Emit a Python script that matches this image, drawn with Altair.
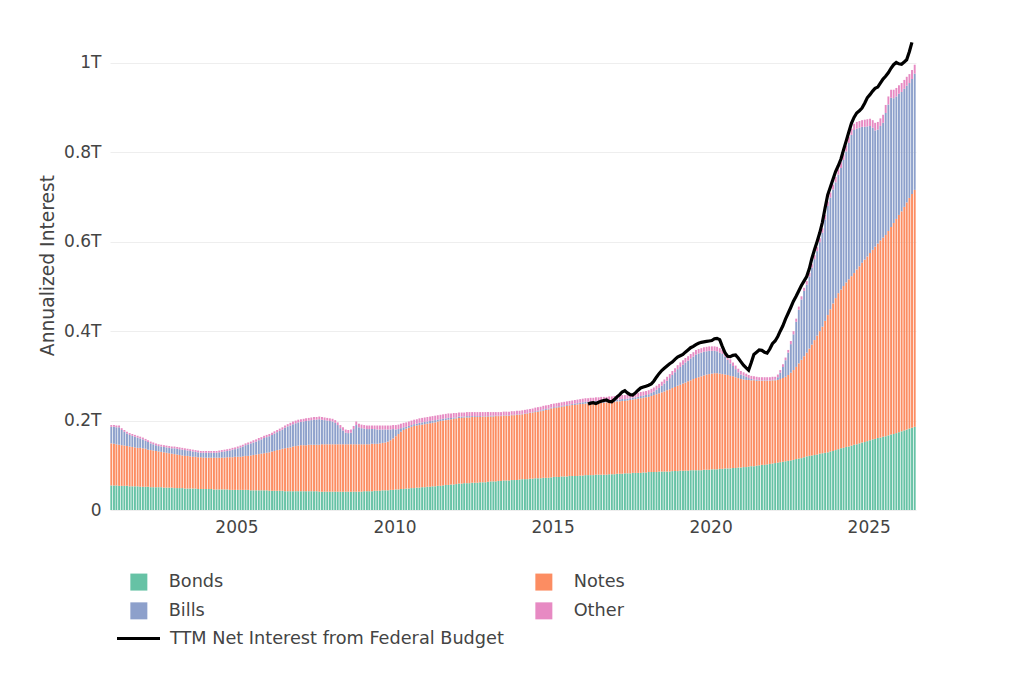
import altair as alt
import pandas as pd

SERIES = ["Bonds", "Notes", "Bills", "Other"]
COLORS = ["#66c2a5", "#fc8d62", "#8da0cb", "#e78ac3"]
LEGEND_ORDER = ["Bonds", "Bills", "Notes", "Other"]   # column-major fill -> rows Bonds/Notes, Bills/Other
LINE_NAME = "TTM Net Interest from Federal Budget"
Y_TICKS = [0, 200, 400, 600, 800, 1000]          # billions of dollars
X_TICK_YEARS = [2005, 2010, 2015, 2020, 2025]

# Annualized interest, billions of USD, monthly Jan 2001 .. Jun 2026 (12 per row = one year)
bonds = [
    55, 55, 55, 54, 54, 54, 54, 53, 53, 53, 53, 52,
    52, 52, 52, 51, 51, 51, 51, 51, 50, 50, 50, 50,
    49, 49, 49, 49, 48, 48, 48, 48, 48, 47, 47, 47,
    47, 47, 47, 46, 46, 46, 46, 46, 46, 45, 45, 45,
    45, 45, 45, 45, 45, 44, 44, 44, 44, 44, 44, 44,
    43, 43, 43, 43, 43, 43, 42, 42, 42, 42, 42, 42,
    42, 42, 42, 42, 42, 42, 42, 41, 41, 41, 41, 41,
    41, 41, 41, 41, 41, 41, 41, 41, 41, 41, 41, 41,
    42, 42, 42, 42, 43, 43, 43, 44, 44, 44, 45, 45,
    46, 46, 47, 47, 48, 48, 49, 49, 50, 50, 51, 51,
    52, 52, 53, 53, 54, 54, 55, 56, 56, 57, 57, 58,
    59, 59, 60, 60, 60, 61, 61, 61, 62, 62, 62, 63,
    64, 64, 64, 65, 65, 66, 66, 66, 67, 67, 67, 68,
    69, 69, 69, 70, 70, 71, 71, 71, 72, 72, 72, 73,
    74, 74, 74, 75, 75, 75, 76, 76, 76, 76, 77, 77,
    78, 78, 78, 78, 79, 79, 79, 79, 79, 80, 80, 80,
    81, 81, 81, 82, 82, 82, 83, 83, 83, 83, 84, 84,
    85, 85, 85, 85, 86, 86, 86, 86, 86, 87, 87, 87,
    88, 88, 88, 88, 89, 89, 89, 89, 89, 90, 90, 90,
    91, 91, 91, 92, 92, 93, 93, 93, 94, 94, 95, 95,
    96, 96, 97, 98, 98, 99, 100, 101, 101, 102, 103, 104,
    105, 106, 107, 108, 109, 110, 111, 112, 114, 115, 116, 118,
    120, 121, 122, 123, 124, 126, 127, 128, 129, 131, 132, 134,
    136, 138, 139, 141, 142, 144, 146, 147, 149, 151, 152, 154,
    156, 158, 159, 161, 162, 164, 165, 167, 169, 170, 172, 174,
    176, 178, 180, 182, 184, 186,
]

notes = [
    94, 93, 92, 92, 91, 90, 89, 89, 88, 87, 86, 87,
    86, 85, 83, 83, 82, 81, 80, 79, 79, 78, 77, 76,
    76, 75, 74, 73, 73, 73, 72, 71, 71, 71, 71, 70,
    70, 70, 70, 71, 71, 71, 71, 71, 72, 73, 73, 74,
    74, 74, 75, 76, 76, 78, 79, 80, 81, 82, 83, 84,
    86, 88, 89, 91, 92, 94, 96, 97, 98, 100, 101, 102,
    103, 103, 103, 104, 104, 104, 104, 105, 106, 106, 106, 106,
    106, 106, 106, 106, 106, 106, 106, 106, 106, 106, 106, 106,
    105, 105, 105, 106, 105, 105, 106, 106, 107, 109, 111, 115,
    119, 124, 128, 132, 134, 136, 137, 139, 139, 140, 140, 141,
    141, 142, 142, 143, 144, 145, 145, 145, 146, 146, 147, 147,
    147, 147, 147, 147, 147, 147, 147, 147, 146, 147, 147, 146,
    145, 145, 146, 145, 145, 145, 145, 145, 145, 145, 146, 145,
    145, 146, 147, 147, 148, 148, 149, 150, 150, 152, 153, 154,
    154, 155, 156, 156, 157, 158, 158, 159, 159, 160, 160, 160,
    160, 160, 161, 161, 160, 161, 161, 161, 162, 161, 162, 162,
    162, 162, 163, 162, 163, 164, 164, 165, 166, 167, 167, 168,
    168, 170, 172, 174, 175, 177, 179, 182, 184, 186, 188, 191,
    192, 195, 197, 200, 201, 204, 206, 208, 210, 211, 213, 214,
    214, 215, 215, 213, 212, 210, 209, 207, 205, 203, 200, 198,
    196, 195, 194, 192, 192, 190, 189, 188, 188, 187, 186, 186,
    185, 185, 186, 187, 189, 192, 196, 201, 206, 213, 220, 226,
    232, 240, 248, 257, 266, 274, 283, 295, 307, 318, 330, 340,
    349, 355, 362, 368, 374, 379, 384, 391, 396, 402, 408, 413,
    419, 424, 430, 435, 441, 445, 450, 457, 464, 472, 479, 486,
    492, 500, 508, 516, 523, 530,
]

bills = [
    37, 38, 38, 39, 34, 31, 28, 26, 25, 24, 23, 21,
    20, 18, 17, 15, 14, 13, 12, 12, 12, 12, 12, 12,
    13, 13, 13, 13, 13, 12, 12, 12, 11, 11, 10, 11,
    11, 11, 11, 11, 11, 12, 13, 14, 14, 15, 17, 17,
    19, 21, 22, 24, 26, 27, 28, 29, 31, 32, 34, 35,
    36, 37, 39, 40, 42, 43, 46, 48, 49, 50, 51, 52,
    52, 53, 54, 54, 55, 56, 56, 57, 55, 54, 53, 52,
    51, 48, 43, 36, 31, 26, 25, 26, 34, 43, 38, 36,
    35, 34, 34, 33, 33, 32, 31, 30, 29, 27, 24, 21,
    15, 11, 8, 6, 4, 4, 4, 4, 4, 5, 5, 5,
    5, 5, 5, 5, 4, 4, 4, 4, 4, 3, 3, 2,
    3, 3, 2, 3, 3, 2, 2, 2, 2, 1, 1, 1,
    2, 2, 1, 1, 1, 1, 1, 1, 1, 1, 1, 1,
    1, 1, 1, 1, 1, 2, 2, 2, 3, 2, 2, 2,
    2, 2, 2, 2, 2, 2, 2, 2, 3, 3, 3, 4,
    4, 4, 4, 4, 5, 4, 5, 5, 4, 5, 4, 5,
    4, 4, 4, 4, 4, 4, 4, 4, 4, 5, 5, 5,
    6, 7, 8, 10, 12, 15, 18, 21, 25, 29, 33, 37,
    40, 42, 45, 46, 49, 50, 53, 53, 53, 53, 52, 52,
    51, 50, 49, 47, 45, 40, 34, 28, 23, 18, 13, 10,
    9, 7, 4, 3, 2, 2, 1, 1, 1, 1, 1, 1,
    2, 6, 14, 25, 37, 50, 64, 80, 101, 120, 135, 146,
    152, 161, 172, 181, 189, 199, 210, 227, 244, 250, 255, 259,
    265, 272, 282, 293, 305, 316, 320, 315, 310, 304, 297, 291,
    284, 273, 260, 255, 256, 257, 273, 283, 289, 279, 274, 271,
    267, 264, 261, 257, 257, 260,
]

other = [
    4, 4, 4, 4, 4, 4, 4, 4, 4, 4, 4, 4,
    4, 4, 4, 4, 4, 4, 4, 4, 4, 4, 4, 4,
    4, 4, 4, 4, 4, 4, 4, 4, 4, 4, 4, 4,
    4, 4, 4, 4, 4, 4, 4, 4, 4, 4, 4, 4,
    4, 4, 4, 4, 4, 4, 5, 5, 5, 5, 5, 5,
    5, 5, 5, 5, 5, 5, 5, 5, 6, 6, 6, 6,
    6, 6, 6, 6, 6, 6, 6, 6, 6, 6, 6, 6,
    6, 6, 6, 7, 7, 7, 7, 7, 7, 8, 8, 8,
    8, 8, 8, 8, 8, 9, 9, 9, 9, 9, 9, 9,
    10, 10, 10, 10, 10, 10, 10, 10, 10, 10, 10, 10,
    10, 10, 10, 10, 10, 10, 10, 10, 10, 10, 10, 10,
    9, 9, 9, 9, 9, 9, 9, 9, 9, 9, 9, 9,
    8, 8, 8, 8, 8, 8, 8, 8, 8, 8, 8, 8,
    8, 8, 8, 8, 8, 8, 8, 8, 8, 8, 8, 8,
    8, 8, 8, 8, 8, 8, 8, 8, 8, 8, 8, 8,
    8, 8, 8, 8, 8, 8, 8, 8, 8, 8, 8, 8,
    9, 9, 9, 9, 9, 9, 9, 9, 9, 9, 9, 9,
    9, 9, 9, 9, 9, 9, 9, 9, 9, 9, 9, 9,
    10, 10, 10, 10, 10, 10, 10, 10, 10, 10, 10, 10,
    10, 10, 10, 10, 9, 9, 9, 9, 8, 8, 8, 8,
    7, 7, 7, 7, 7, 7, 7, 7, 7, 7, 7, 7,
    6, 6, 6, 6, 6, 6, 7, 7, 7, 7, 7, 7,
    8, 8, 8, 9, 9, 9, 10, 10, 10, 11, 11, 12,
    12, 13, 13, 13, 14, 14, 14, 15, 15, 15, 16, 16,
    16, 17, 17, 17, 17, 18, 18, 18, 18, 19, 19, 19,
    20, 20, 20, 20, 20, 20,
]

# TTM net interest from the federal budget, billions of USD, monthly Feb 2016 .. May 2026
ttm = [
    237, 239, 240, 238, 241, 243, 245, 246, 243, 242, 247,
    253, 258, 264, 267, 262, 258, 257, 262, 268, 273, 275, 277,
    279, 282, 288, 297, 305, 312, 317, 322, 327, 331, 337, 342,
    345, 348, 353, 358, 363, 366, 370, 373, 375, 376, 377, 378,
    379, 383, 384, 381, 366, 352, 344, 343, 346, 347, 340, 332,
    324, 318, 313, 330, 348, 353, 358, 357, 353, 351, 360, 372,
    378, 388, 400, 412, 427, 440, 453, 467, 478, 490, 502, 512,
    522, 540, 562, 582, 600, 620, 643, 675, 705, 722, 740, 757,
    770, 785, 805, 825, 845, 865, 878, 888, 893, 899, 910, 922,
    929, 937, 943, 946, 955, 964, 970, 978, 988, 996, 1001, 998,
    997, 1002, 1007, 1025, 1046,
]

FMT = "%Y-%m-%dT%H:%M:%S"
months = pd.date_range("2001-01-01", periods=len(bonds), freq="MS")
rows = []
for k, (name, vals) in enumerate(zip(SERIES, [bonds, notes, bills, other])):
    for m, v in zip(months, vals):
        rows.append({
            "start": (m + pd.Timedelta(days=4)).strftime(FMT),
            "end": (m + pd.Timedelta(days=26)).strftime(FMT),
            "series": name,
            "k": k,
            "value": v,
        })
bars_df = pd.DataFrame(rows)

line_months = pd.date_range("2016-02-01", periods=len(ttm), freq="MS")
line_df = pd.DataFrame({
    "mid": [(m + pd.Timedelta(days=14)).strftime(FMT) for m in line_months],
    "value": ttm,
    "name": LINE_NAME,
})

FONT = "DejaVu Sans"
TXT = "#444444"
COLOR_MAP = dict(zip(SERIES, COLORS))

x_scale = alt.Scale(domain=[alt.DateTime(year=2001, month=1, date=1),
                            alt.DateTime(year=2026, month=7, date=1)])
x_axis = alt.Axis(
    values=[alt.DateTime(year=y, month=1, date=1) for y in X_TICK_YEARS],
    format="%Y", title=None, grid=False, ticks=False, domain=False,
    labelFontSize=17, labelPadding=9, labelFont=FONT, labelColor=TXT,
)
y_scale = alt.Scale(domain=[0, 1096], nice=False, zero=True)
y_axis = alt.Axis(
    values=Y_TICKS,
    labelExpr="datum.value == 0 ? '0' : format(datum.value / 1000, '~g') + 'T'",
    title="Annualized Interest", titleFontSize=18.7, titleFontWeight="normal",
    titleFont=FONT, titleColor=TXT, titleX=-63, titleY=245, titleBaseline="middle",
    grid=True, gridColor="#eeeeee", gridWidth=1, ticks=False, domain=False,
    labelFontSize=17, labelPadding=9, labelFont=FONT, labelColor=TXT,
)

bars = alt.Chart(bars_df).transform_stack(
    stack="value", groupby=["start"], sort=[alt.SortField("k", order="ascending")],
    as_=["y0", "y1"],
).mark_bar(clip=True).encode(
    x=alt.X("start:T", scale=x_scale, axis=x_axis),
    x2="end:T",
    y=alt.Y("y0:Q", scale=y_scale, axis=y_axis),
    y2="y1:Q",
    color=alt.Color(
        "series:N",
        scale=alt.Scale(domain=LEGEND_ORDER, range=[COLOR_MAP[s] for s in LEGEND_ORDER]),
        legend=alt.Legend(
            title=None, orient="none", legendX=20, legendY=553,
            columns=2, columnPadding=311, rowPadding=10,
            symbolType="square", symbolSize=289, symbolStrokeWidth=0,
            symbolOpacity=1, labelOffset=21, labelFontSize=17.7,
            labelFont=FONT, labelColor=TXT,
        ),
    ),
)

line = alt.Chart(line_df).mark_line(strokeWidth=3.2, clip=True).encode(
    x=alt.X("mid:T", scale=x_scale, axis=x_axis),
    y=alt.Y("value:Q", scale=y_scale, axis=y_axis),
    stroke=alt.Stroke(
        "name:N",
        scale=alt.Scale(domain=[LINE_NAME], range=["#000000"]),
        legend=alt.Legend(
            title=None, orient="none", legendX=5, legendY=595,
            symbolType="stroke", symbolSize=1849, symbolStrokeWidth=3.2,
            labelOffset=8, labelFontSize=17.7, labelFont=FONT,
            labelColor=TXT, labelLimit=0,
        ),
    ),
)

chart = alt.layer(bars, line).properties(
    width=806, height=490,
    autosize=alt.AutoSizeParams(type="none"),
    padding={"left": 102, "top": 12, "right": 100, "bottom": 150},
    background="white",
).configure_view(strokeWidth=0)

chart.save("out.html", embed_options={"renderer": "svg", "actions": False})
